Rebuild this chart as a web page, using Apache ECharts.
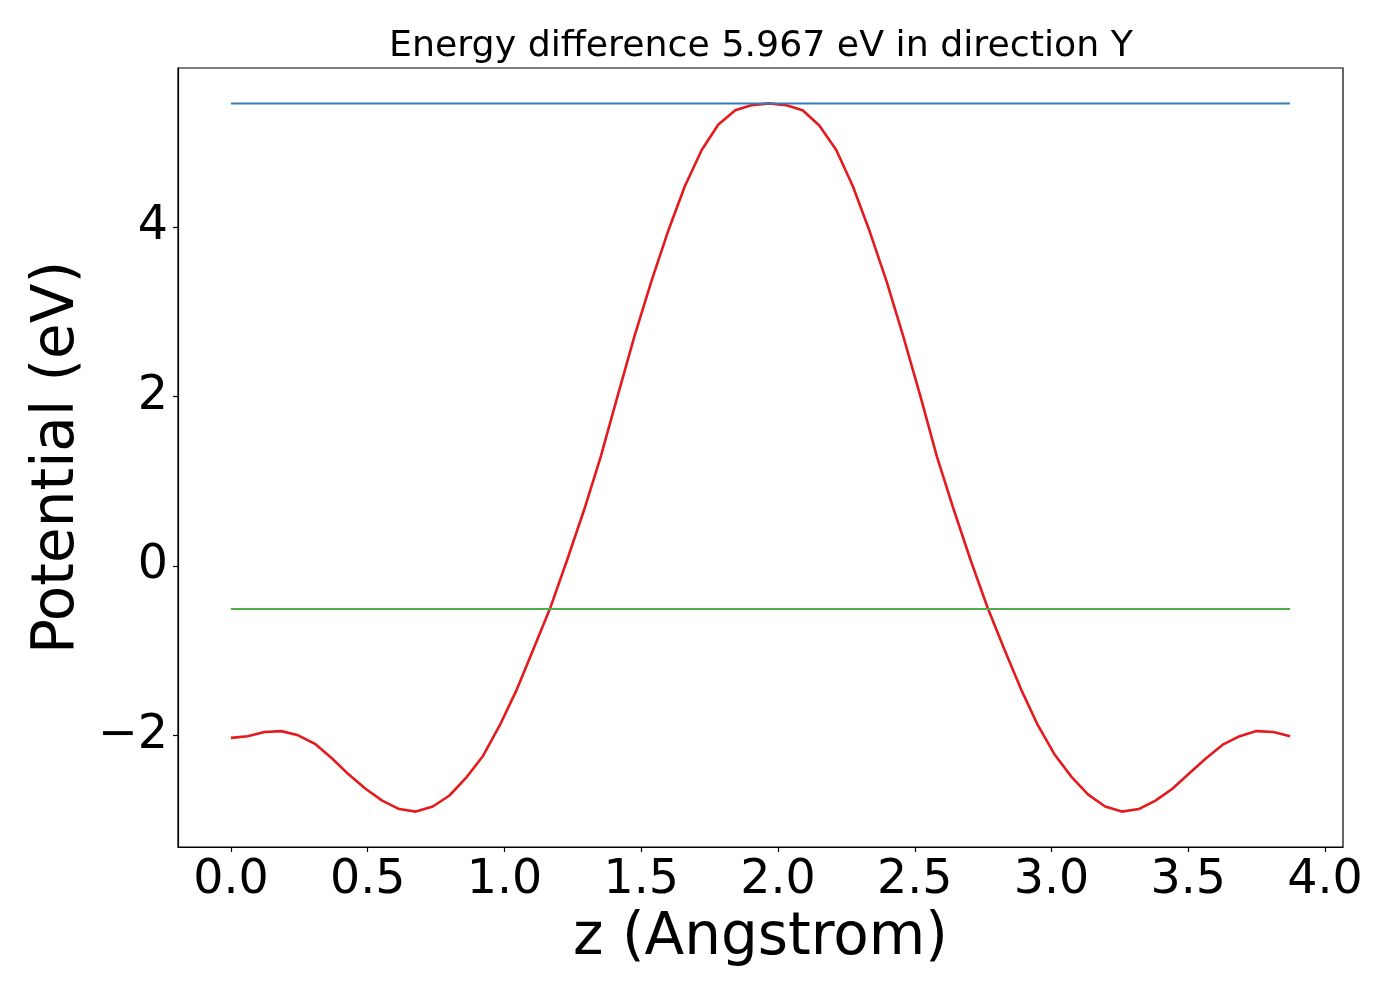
<!DOCTYPE html>
<html>
<head>
<meta charset="utf-8">
<script src="https://cdn.jsdelivr.net/npm/echarts@6/dist/echarts.min.js"></script>
<style>
  html, body { margin: 0; padding: 0; background: #fff; }
  #chart { width: 1400px; height: 1000px; }
</style>
</head>
<body>
<div id="chart"></div>
<script>
// z positions (Angstrom)
const zValues = [
  0.000, 0.061, 0.123, 0.184, 0.246, 0.307, 0.369, 0.430, 0.492, 0.553,
  0.615, 0.676, 0.738, 0.799, 0.860, 0.922, 0.983, 1.045, 1.106, 1.168,
  1.229, 1.291, 1.352, 1.414, 1.475, 1.537, 1.598, 1.659, 1.721, 1.782,
  1.844, 1.905, 1.967, 2.028, 2.090, 2.151, 2.213, 2.274, 2.335, 2.397,
  2.458, 2.520, 2.581, 2.643, 2.704, 2.766, 2.827, 2.889, 2.950, 3.012,
  3.073, 3.134, 3.196, 3.257, 3.319, 3.380, 3.442, 3.503, 3.565, 3.626,
  3.688, 3.749, 3.811, 3.872
];

// averaged potential (eV)
const potential = [
  -2.03, -2.01, -1.96, -1.95, -2.00, -2.10, -2.27, -2.46, -2.63, -2.77,
  -2.87, -2.90, -2.84, -2.71, -2.50, -2.24, -1.88, -1.46, -0.98, -0.49,
   0.07,  0.66,  1.29,  2.01,  2.71,  3.36,  3.95,  4.48,  4.91,  5.21,
   5.38,  5.44,  5.46,  5.44,  5.38,  5.20,  4.91,  4.48,  3.95,  3.36,
   2.71,  2.01,  1.29,  0.66,  0.07, -0.49, -0.98, -1.46, -1.88, -2.23,
  -2.49, -2.70, -2.84, -2.90, -2.87, -2.77, -2.63, -2.45, -2.27, -2.11,
  -2.01, -1.95, -1.96, -2.01
];

// horizontal reference levels (eV)
const maxLevel = 5.46;
const lowLevel = -0.507;

const xTicks = [0, 0.5, 1.0, 1.5, 2.0, 2.5, 3.0, 3.5, 4.0];
const yTicks = [-2, 0, 2, 4];

const titleText = 'Energy difference 5.967 eV in direction Y';

const FONT = 'DejaVu Sans';

const zStart = zValues[0];
const zEnd = zValues[zValues.length - 1];

const chart = echarts.init(document.getElementById('chart'), null, { renderer: 'canvas' });

chart.setOption({
  animation: false,
  backgroundColor: '#fff',
  title: {
    text: titleText,
    left: 756,
    top: 24,
    textAlign: 'center',
    textStyle: { fontFamily: FONT, fontSize: 36.3, fontWeight: 'normal', color: '#000' }
  },
  grid: {
    left: 178, right: 57, top: 68, bottom: 153,
    show: true, borderColor: '#000', borderWidth: 1.2
  },
  xAxis: {
    type: 'value',
    min: -0.1936,
    max: 4.0656,
    name: 'z (Angstrom)',
    nameLocation: 'middle',
    nameGap: 62,
    nameTextStyle: { fontFamily: FONT, fontSize: 58, color: '#000' },
    axisLine: { show: true, onZero: false, lineStyle: { color: '#000', width: 1.2 } },
    axisTick: { show: true, customValues: xTicks, length: 5, lineStyle: { color: '#000', width: 1.2 } },
    axisLabel: {
      customValues: xTicks,
      margin: 10,
      fontFamily: FONT, fontSize: 47.5, color: '#000',
      formatter: function (v) { return v.toFixed(1); }
    },
    splitLine: { show: false }
  },
  yAxis: {
    type: 'value',
    min: -3.318,
    max: 5.878,
    name: 'Potential (eV)',
    nameLocation: 'middle',
    nameRotate: 90,
    nameGap: 84,
    nameTextStyle: { fontFamily: FONT, fontSize: 58, color: '#000' },
    axisLine: { show: true, onZero: false, lineStyle: { color: '#000', width: 1.2 } },
    axisTick: { show: true, customValues: yTicks, length: 5, lineStyle: { color: '#000', width: 1.2 } },
    axisLabel: {
      customValues: yTicks,
      margin: 10,
      fontFamily: FONT, fontSize: 47.5, color: '#000',
      formatter: function (v) { return String(v).replace('-', '\u2212'); }
    },
    splitLine: { show: false }
  },
  series: [
    {
      type: 'line',
      data: zValues.map((z, i) => [z, potential[i]]),
      showSymbol: false,
      lineStyle: { color: '#e41a1c', width: 2.6 },
      z: 2
    },
    {
      type: 'line',
      data: [[zStart, maxLevel], [zEnd, maxLevel]],
      showSymbol: false,
      lineStyle: { color: '#377eb8', width: 2 },
      z: 3
    },
    {
      type: 'line',
      data: [[zStart, lowLevel], [zEnd, lowLevel]],
      showSymbol: false,
      lineStyle: { color: '#4daf4a', width: 2 },
      z: 3
    }
  ]
});
</script>
</body>
</html>
